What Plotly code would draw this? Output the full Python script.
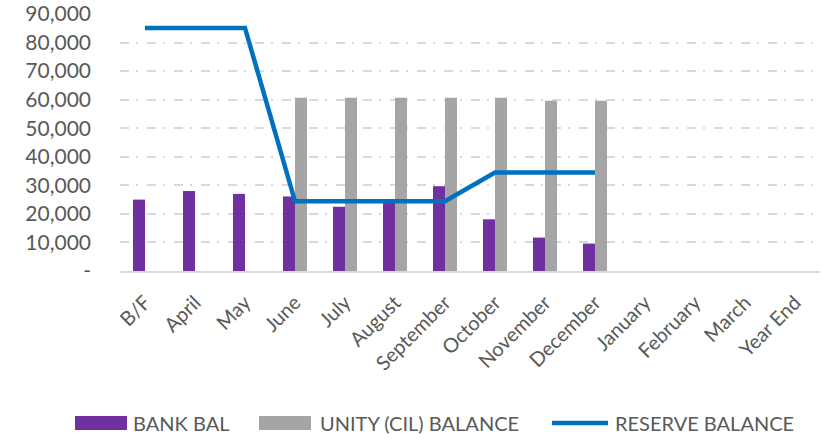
import plotly.graph_objects as go

categories = ["B/F", "April", "May", "June", "July", "August", "September",
              "October", "November", "December", "January", "February", "March", "Year End"]
bank_bal = [25000, 28000, 27000, 26100, 22500, 24300, 29700, 18100, 11700, 9600,
            None, None, None, None]
unity_bal = [None, None, None, 60700, 60700, 60700, 60700, 60700, 59600, 59600,
             None, None, None, None]
reserve_bal = [85100, 85100, 85100, 24400, 24400, 24400, 24400, 34500, 34500, 34500,
               None, None, None, None]
y_tickvals = [0, 10000, 20000, 30000, 40000, 50000, 60000, 70000, 80000, 90000]
y_ticktext = ["-", "10,000", "20,000", "30,000", "40,000", "50,000", "60,000",
              "70,000", "80,000", "90,000"]

series_names = ["BANK BAL", "UNITY (CIL) BALANCE", "RESERVE BALANCE"]
series_colors = ["#7030A0", "#A5A5A5", "#0070C0"]

FONT = "Lato, Open Sans, sans-serif"
GREY_TXT = "#595959"
W, H = 830, 443
ML, MR, MT, MB = 120, 10, 14, 172

fig = go.Figure()
fig.add_trace(go.Bar(x=categories, y=bank_bal, name=series_names[0],
                     marker=dict(color=series_colors[0], line=dict(width=0))))
fig.add_trace(go.Bar(x=categories, y=unity_bal, name=series_names[1],
                     marker=dict(color=series_colors[1], line=dict(width=0))))
fig.add_trace(go.Scatter(x=categories, y=reserve_bal, name=series_names[2],
                         mode="lines", line=dict(color=series_colors[2], width=4.5),
                         connectgaps=False))

# custom legend (wide swatches like the original), in paper coordinates
pw, ph = W - ML - MR, H - MT - MB
def px(x):
    return (x - ML) / pw
def py(y):
    return (H - MB - y) / ph

shapes = []
annotations = []
legend_y = 423
swatches = [(75, 127, 131), (259, 311, 318), (552, 608, 613)]
for i, (x0, x1, tx) in enumerate(swatches):
    if i < 2:
        shapes.append(dict(type="rect", xref="paper", yref="paper",
                           x0=px(x0), x1=px(x1), y0=py(legend_y + 7), y1=py(legend_y - 7),
                           fillcolor=series_colors[i], line=dict(width=0)))
    else:
        shapes.append(dict(type="line", xref="paper", yref="paper",
                           x0=px(x0), x1=px(x1), y0=py(legend_y), y1=py(legend_y),
                           line=dict(color=series_colors[i], width=4.5)))
    annotations.append(dict(xref="paper", yref="paper", x=px(tx), y=py(legend_y),
                            xanchor="left", yanchor="middle", showarrow=False,
                            text=series_names[i],
                            font=dict(family=FONT, size=20, color=GREY_TXT)))

fig.update_layout(
    width=W, height=H,
    margin=dict(l=ML, r=MR, t=MT, b=MB),
    paper_bgcolor="white", plot_bgcolor="white",
    barmode="group", bargap=0.52, bargroupgap=0,
    font=dict(family=FONT, color=GREY_TXT),
    showlegend=False,
    shapes=shapes, annotations=annotations,
)
fig.update_xaxes(
    type="category", tickangle=-45, tickfont=dict(size=20, color=GREY_TXT),
    showgrid=False, showline=True, linecolor="#D9D9D9", linewidth=2,
    ticks="", range=[-0.5, 13.5], automargin=False, ticklabelstandoff=10,
)
fig.update_yaxes(
    range=[0, 90000], tickvals=y_tickvals, ticktext=y_ticktext,
    tickfont=dict(size=21, color=GREY_TXT), showgrid=True, gridcolor="#D9D9D9",
    gridwidth=1.5, griddash="9px,7px,2px,9px", zeroline=False, showline=False,
    ticks="", ticklabelstandoff=28, automargin=False,
)

fig.write_html("out.html", config={"displayModeBar": False},
               post_script="document.body.style.margin='0';document.body.style.overflow='hidden';")
